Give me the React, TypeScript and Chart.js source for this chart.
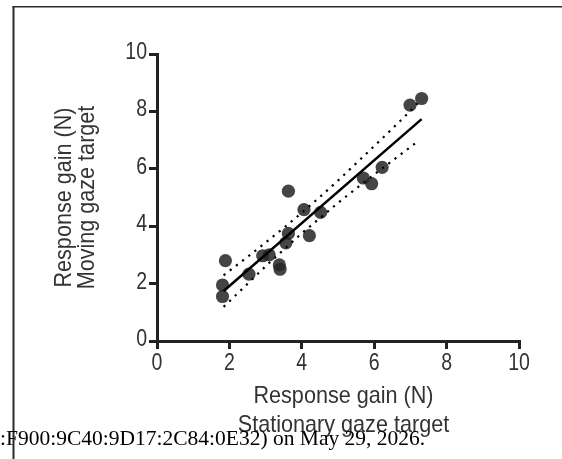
import React, { useEffect, useRef } from "react";
import { Chart, registerables } from "chart.js";

Chart.register(...registerables);

// Individual subjects: response gain with a stationary (x) vs moving (y) gaze target
const stationaryGain = [1.81, 1.81, 1.89, 2.54, 2.92, 3.10, 3.38, 3.40, 3.56, 3.63, 3.63, 4.06, 4.21, 4.52, 5.70, 5.93, 6.22, 6.99, 7.31];
const movingGain = [1.55, 1.95, 2.80, 2.33, 2.97, 3.00, 2.65, 2.50, 3.42, 3.75, 5.22, 4.58, 3.67, 4.48, 5.68, 5.48, 6.05, 8.22, 8.45];

// Linear fit endpoints
const fitX = [1.84, 7.31];
const fitY = [1.74, 7.73];

// 95% confidence band of the fit
const bandX = [1.84, 2.5, 3.0, 3.5, 4.0, 4.5, 5.0, 5.5, 6.0, 6.5, 7.0, 7.2];
const bandUpper = [2.29, 2.93, 3.43, 3.94, 4.47, 5.02, 5.59, 6.19, 6.79, 7.40, 8.02, 8.28];
const bandLower = [1.19, 1.99, 2.60, 3.18, 3.75, 4.28, 4.81, 5.31, 5.80, 6.28, 6.76, 6.95];

const tickValues = [0, 2, 4, 6, 8, 10];

const xTitle = ["Response gain (N)", "Stationary gaze target"];
const yTitle = ["Response gain (N)", "Moving gaze target"];
const footer = ":F900:9C40:9D17:2C84:0E32) on May 29, 2026.";

const SANS = '"Liberation Sans", Arial, sans-serif';
const SERIF = '"Liberation Serif", "Times New Roman", serif';

const pairs = (xs: number[], ys: number[]) => xs.map((x, i) => ({ x, y: ys[i] }));

// condensed sans text (the figure uses a narrow Helvetica)
function squeezedText(
  ctx: CanvasRenderingContext2D,
  text: string,
  x: number,
  y: number,
  squeeze: number,
  rotate = false
) {
  ctx.save();
  ctx.translate(x, y);
  if (rotate) ctx.rotate(-Math.PI / 2);
  ctx.scale(squeeze, 1);
  ctx.fillText(text, 0, 0);
  ctx.restore();
}

const decorations = {
  id: "decorations",
  afterDraw(chart: Chart) {
    const ctx = chart.ctx;
    const { left, right, top, bottom } = chart.chartArea;
    const xs = chart.scales.x;
    const ys = chart.scales.y;
    ctx.save();

    // page frame
    ctx.strokeStyle = "#2a2a2a";
    ctx.lineWidth = 2;
    ctx.beginPath();
    ctx.moveTo(13.5, 6);
    ctx.lineTo(13.5, chart.height);
    ctx.stroke();
    ctx.lineWidth = 1.5;
    ctx.beginPath();
    ctx.moveTo(12.5, 6.75);
    ctx.lineTo(chart.width, 6.75);
    ctx.stroke();

    // tick labels, placed by the scales
    ctx.fillStyle = "#333";
    ctx.font = `23px ${SANS}`;
    ctx.textBaseline = "alphabetic";
    ctx.textAlign = "center";
    xs.ticks.forEach((t) => {
      squeezedText(ctx, String(t.value), xs.getPixelForValue(t.value), bottom + 29, 0.85);
    });
    ctx.textAlign = "right";
    ys.ticks.forEach((t) => {
      squeezedText(ctx, String(t.value), left - 10, ys.getPixelForValue(t.value) + 5, 0.85);
    });

    // axis titles
    ctx.font = `24px ${SANS}`;
    ctx.textAlign = "center";
    const cx = (left + right) / 2 + 5.5;
    squeezedText(ctx, xTitle[0], cx, 403, 0.9);
    squeezedText(ctx, xTitle[1], cx, 431.5, 0.9);

    const cy = (top + bottom) / 2;
    squeezedText(ctx, yTitle[0], 70.5, cy, 0.9, true);
    squeezedText(ctx, yTitle[1], 94, cy, 0.9, true);

    // footer line
    ctx.fillStyle = "#000";
    ctx.font = `21.5px ${SERIF}`;
    ctx.textAlign = "left";
    ctx.fillText(footer, 0, 445);

    ctx.restore();
  },
};

export default function App() {
  const canvasRef = useRef<HTMLCanvasElement | null>(null);

  useEffect(() => {
    const canvas = canvasRef.current;
    if (!canvas) return;

    const axis = () => ({
      type: "linear" as const,
      min: 0,
      max: 10,
      afterBuildTicks: (scale: any) => {
        scale.ticks = tickValues.map((value) => ({ value }));
      },
      grid: {
        drawOnChartArea: false,
        drawTicks: true,
        tickLength: 8,
        color: "#222",
        lineWidth: 3,
      },
      border: { display: true, color: "#222", width: 3 },
      ticks: { display: false },
    });

    const chart = new Chart(canvas, {
      type: "scatter",
      data: {
        datasets: [
          {
            data: pairs(fitX, fitY),
            showLine: true,
            borderColor: "#000",
            borderWidth: 2.5,
            pointRadius: 0,
            order: 0,
          },
          {
            data: pairs(bandX, bandUpper),
            showLine: true,
            borderColor: "#000",
            borderWidth: 2.2,
            borderDash: [2.2, 5.6],
            cubicInterpolationMode: "monotone",
            pointRadius: 0,
            order: 1,
          },
          {
            data: pairs(bandX, bandLower),
            showLine: true,
            borderColor: "#000",
            borderWidth: 2.2,
            borderDash: [2.2, 5.6],
            cubicInterpolationMode: "monotone",
            pointRadius: 0,
            order: 1,
          },
          {
            data: pairs(stationaryGain, movingGain),
            pointRadius: 6.6,
            pointBackgroundColor: "rgba(38,38,38,0.86)",
            pointBorderWidth: 0,
            order: 2,
          },
        ],
      },
      options: {
        animation: false,
        responsive: false,
        devicePixelRatio: 1,
        layout: { padding: { top: 54, right: 43, left: 0, bottom: 0 } },
        plugins: { legend: { display: false }, tooltip: { enabled: false } },
        scales: {
          x: {
            ...axis(),
            position: "bottom",
            afterFit: (scale: any) => {
              scale.height = 118;
            },
          },
          y: {
            ...axis(),
            position: "left",
            afterFit: (scale: any) => {
              scale.width = 157;
            },
          },
        },
      },
      plugins: [decorations],
    });

    return () => chart.destroy();
  }, []);

  return (
    <div style={{ position: "fixed", left: 0, top: 0, width: 562, height: 459, background: "#fff" }}>
      <canvas ref={canvasRef} width={562} height={459} style={{ display: "block" }} />
    </div>
  );
}
